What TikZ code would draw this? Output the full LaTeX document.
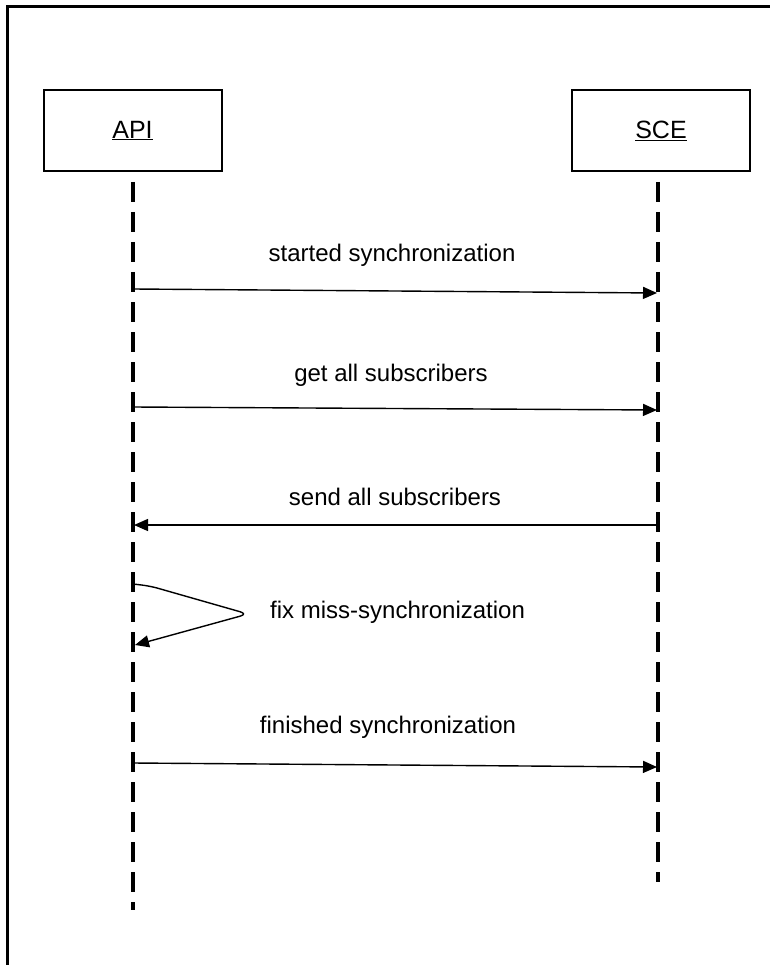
\documentclass[tikz,border=0pt]{standalone}
\usepackage{fontspec}
\setmainfont{Liberation Sans}
\usetikzlibrary{arrows.meta}
\begin{document}
\begin{tikzpicture}[x=1pt,y=-1pt,
  actor/.style={draw,line width=2pt,minimum width=178pt,minimum height=81pt,
    inner sep=0pt,font=\fontsize{25}{30}\selectfont},
  lifeline/.style={line width=3.5pt,dash pattern=on 20pt off 10pt},
  msg/.style={line width=1.4pt,-{Triangle[length=14pt,width=12pt]}},
  lbl/.style={font=\fontsize{24}{28}\selectfont,inner sep=0pt}]
\useasboundingbox (0,0) rectangle (770,965);
\fill[white] (0,0) rectangle (770,965);
% outer frame (top and left edges)
\draw[line width=3pt] (7,965) -- (7,7) -- (770,7);

% participants
\node[actor] (api) at (132.5,130.5) {\underline{API}};
\node[actor] (sce) at (661,131) {\underline{SCE}};

% lifelines
\coordinate (apiTop) at (133,182);
\coordinate (apiBot) at (133,910);
\coordinate (sceTop) at (658,182);
\coordinate (sceBot) at (658,882);
\draw[lifeline] (apiTop) -- (apiBot);
\draw[lifeline] (sceTop) -- (sceBot);

% message anchors on the lifelines
\coordinate (a1) at (133,289);  \coordinate (s1) at (657,293);
\coordinate (a2) at (133,407);  \coordinate (s2) at (657,410);
\coordinate (s3) at (658,525);  \coordinate (a3) at (134,525);
\coordinate (a5) at (133,763);  \coordinate (s5) at (657,767);
\coordinate (loopOut) at (133,584);
\coordinate (loopIn) at (135,645);

% messages
\draw[msg] (a1) -- (s1);
\node[lbl] (t1) at (392,255) {started synchronization};
\draw[msg] (a2) -- (s2);
\node[lbl] (t2) at (391,375) {get all subscribers};
\draw[msg] (s3) -- (a3);
\node[lbl] (t3) at (395,497) {send all subscribers};

% self message
\draw[msg,rounded corners=8pt] (loopOut) -- (150,586) -- (248,614) -- (150,641) -- (loopIn);
\node[lbl,anchor=west] (t4) at (270,612) {fix miss-synchronization};

\draw[msg] (a5) -- (s5);
\node[lbl] (t5) at (388,727) {finished synchronization};
\end{tikzpicture}
\end{document}
